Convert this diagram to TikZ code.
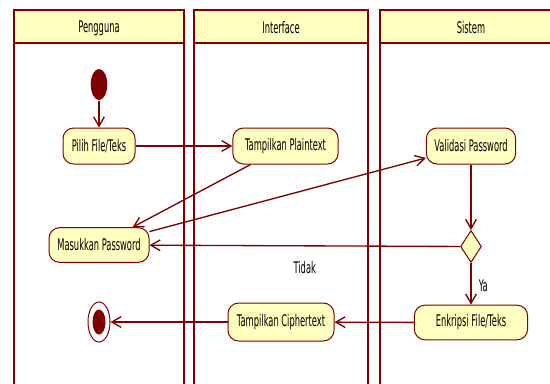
\documentclass[tikz,border=0pt]{standalone}
\usepackage{fontspec}
\setmainfont[FakeStretch=0.52]{DejaVu Sans}
\usetikzlibrary{arrows.meta,shapes.geometric}

\definecolor{umlred}{RGB}{128,0,0}
\definecolor{umlfill}{RGB}{255,255,192}

\tikzset{every picture/.style={line width=0.75pt}}
\tikzset{
  act/.style={draw=umlred, fill=umlfill, rounded corners=8pt, inner sep=0pt, minimum height=27pt, font=\fontsize{12}{14}\selectfont},
  dec/.style={draw=umlred, fill=umlfill, diamond, inner sep=0pt, minimum width=15.75pt, minimum height=24pt},
  lanehead/.style={draw=umlred, fill=umlfill, line width=2pt},
  laneline/.style={draw=umlred, line width=1.5pt},
  flow/.style={draw=umlred, line width=1pt, -{Straight Barb[length=7pt,width=8pt]}},
  lbl/.style={font=\fontsize{12}{14}\selectfont}
}

\begin{document}
\begin{tikzpicture}[x=0.75pt,y=0.75pt,yscale=-1,xscale=1]
\useasboundingbox (0,0) rectangle (550,383);
\clip (0,0) rectangle (550,383);

%Shape: Lane Pengguna
\draw [laneline] (14,10) -- (14,395) ;
\draw [laneline] (184,10) -- (184,395) ;
\draw [lanehead] (14,10) rectangle (184,43) ;
%Shape: Lane Interface
\draw [laneline] (194,10) -- (194,395) ;
\draw [laneline] (368,10) -- (368,395) ;
\draw [lanehead] (194,10) rectangle (368,43) ;
%Shape: Lane Sistem
\draw [laneline] (380,10) -- (380,395) ;
\draw [lanehead] (380,10) rectangle (570,43) ;

% Text Node
\draw (99,28) node [lbl] (hpengguna) {Pengguna};
% Text Node
\draw (281,28) node [lbl] (hinterface) {Interface};
% Text Node
\draw (471,28) node [lbl] (hsistem) {Sistem};

%Shape: Start
\draw (99,84.5) node [ellipse, fill=umlred, inner sep=0pt, minimum width=12.4pt, minimum height=23.3pt] (start) {};
%Shape: End
\draw (99,322) node [ellipse, draw=umlred, fill=white, inner sep=0pt, minimum width=16.5pt, minimum height=30pt] (endo) {};
\draw (99,322) node [ellipse, fill=umlred, inner sep=0pt, minimum width=9.75pt, minimum height=18.75pt] (endi) {};

%Shape: Activities
\draw (99,146) node [act, minimum width=54pt] (pf) {Pilih File/Teks};
\draw (285.5,146) node [act, minimum width=79pt] (tp) {Tampilkan Plaintext};
\draw (471,146) node [act, minimum width=67pt] (vp) {Validasi Password};
\draw (99,245) node [act, minimum width=75pt, minimum height=26pt] (mp) {Masukkan Password};
\draw (471,246.5) node [dec] (dm) {};
\draw (471,322.5) node [act, minimum width=85pt, minimum height=26pt] (ef) {Enkripsi File/Teks};
\draw (281,322) node [act, minimum width=79.5pt, minimum height=28.5pt] (tc) {Tampilkan Ciphertext};

%Connectors
\draw [flow] (start) -- (pf) ;
\draw [flow] (pf) -- (tp) ;
\draw [flow] (tp) -- (mp) ;
\draw [flow] (mp) -- (vp) ;
\draw [flow] (vp) -- (dm) ;
\draw [flow] (dm) -- node [lbl, below=8pt] (ltidak) {Tidak} (mp) ;
\draw [flow] (dm) -- node [lbl, pos=0.55, right=2pt] (lya) {Ya} (ef) ;
\draw [flow] (ef) -- (tc) ;
\draw [flow] (tc) -- (endo) ;

\end{tikzpicture}
\end{document}
